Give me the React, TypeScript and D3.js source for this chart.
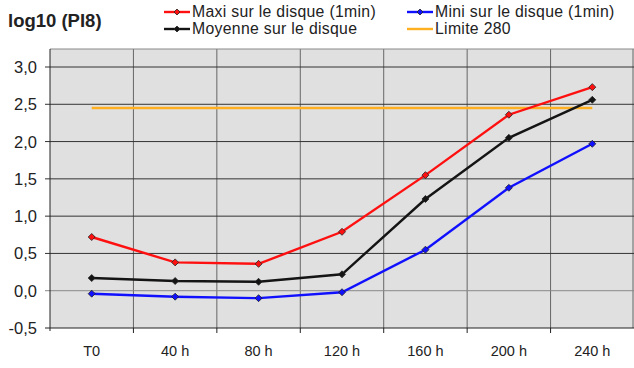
import React from "react";
import * as d3 from "d3";

const categories = ["T0", "40 h", "80 h", "120 h", "160 h", "200 h", "240 h"];
const maxi = [0.72, 0.38, 0.36, 0.79, 1.55, 2.36, 2.73];
const moyenne = [0.17, 0.13, 0.12, 0.22, 1.23, 2.05, 2.56];
const mini = [-0.04, -0.08, -0.1, -0.02, 0.55, 1.38, 1.97];
const limite = [2.45, 2.45, 2.45, 2.45, 2.45, 2.45, 2.45];
const yTicks = [-0.5, 0, 0.5, 1, 1.5, 2, 2.5, 3];

const W = 634, H = 368;
const L = 50, R = 634, T = 49, B = 328;

export default function App() {
  const x = d3.scaleBand().domain(categories).range([L, R]);
  const y = d3.scaleLinear().domain([-0.5, 3.0]).range([B, 67]);
  const cx = (c: string) => (x(c) as number) + x.bandwidth() / 2;
  const line = d3.line<number>().x((_, i) => cx(categories[i])).y((d) => y(d));
  const font = "'Liberation Sans', Arial, sans-serif";
  const fmt = (v: number) => v.toFixed(1).replace(".", ",");
  const series = [
    { data: maxi, color: "#ff1010" },
    { data: moyenne, color: "#141414" },
    { data: mini, color: "#1010ff" },
  ];
  const diamond = (px: number, py: number, r = 3.5) =>
    `M${px},${py - r}L${px + r},${py}L${px},${py + r}L${px - r},${py}Z`;
  const legend = [
    { label: "Maxi sur le disque (1min)", color: "#ff1010", x: 164, y: 12, marker: true },
    { label: "Mini sur le disque (1min)", color: "#1010ff", x: 407, y: 12, marker: true },
    { label: "Moyenne sur le disque", color: "#141414", x: 164, y: 29, marker: true },
    { label: "Limite 280", color: "#ffb020", x: 407, y: 29, marker: false },
  ];
  return (
    <svg width={W} height={H} style={{ position: "absolute", left: 0, top: 0, background: "#fff" }}>
      <rect x={L} y={T} width={R - L} height={B - T} fill="#e0e0e0" />
      {categories.map((c, i) =>
        i > 0 ? (
          <line key={c} x1={x(c)} x2={x(c)} y1={T} y2={B} stroke="#666" strokeWidth={1} />
        ) : null
      )}
      <line x1={R - 1} x2={R - 1} y1={T} y2={B} stroke="#666" />
      <line x1={L} x2={R} y1={T} y2={T} stroke="#888" />
      {yTicks.map((t) => (
        <g key={t}>
          <line x1={L - 5} x2={R} y1={y(t)} y2={y(t)} stroke={t === 0 ? "#888" : t === -0.5 ? "#222" : "#333"} strokeWidth={1} />
          <text x={37} y={y(t)} dy="0.36em" textAnchor="end" fontFamily={font} fontSize={16.5} fill="#222">
            {fmt(t)}
          </text>
        </g>
      ))}
      <line x1={L} x2={L} y1={T} y2={B + 3} stroke="#222" />
      {categories.map((c, i) => (
        <g key={c}>
          {i > 0 && <line x1={x(c)} x2={x(c)} y1={B} y2={B + 5} stroke="#222" />}
          <text x={cx(c)} y={356} textAnchor="middle" fontFamily={font} fontSize={14.5} fill="#222">
            {c}
          </text>
        </g>
      ))}
      <path d={line(limite) as string} fill="none" stroke="#ffb020" strokeWidth={2.5} />
      {series.map((s, si) => (
        <g key={si}>
          <path d={line(s.data) as string} fill="none" stroke={s.color} strokeWidth={2.4} />
          {s.data.map((v, i) => (
            <path key={i} d={diamond(cx(categories[i]), y(v))} fill={s.color} stroke="#222" strokeWidth={0.8} />
          ))}
        </g>
      ))}
      <text x={8} y={26.5} fontFamily={font} fontSize={18.5} fontWeight="bold" fill="#222">
        log10 (PI8)
      </text>
      {legend.map((l) => (
        <g key={l.label}>
          <line x1={l.x} x2={l.x + 26} y1={l.y} y2={l.y} stroke={l.color} strokeWidth={2.4} />
          {l.marker && <path d={diamond(l.x + 13, l.y, 3)} fill={l.color} stroke="#222" strokeWidth={0.8} />}
          <text x={l.x + 28} y={l.y + 5.3} fontFamily={font} fontSize={15.8} letterSpacing={0.3} fill="#222">
            {l.label}
          </text>
        </g>
      ))}
    </svg>
  );
}
